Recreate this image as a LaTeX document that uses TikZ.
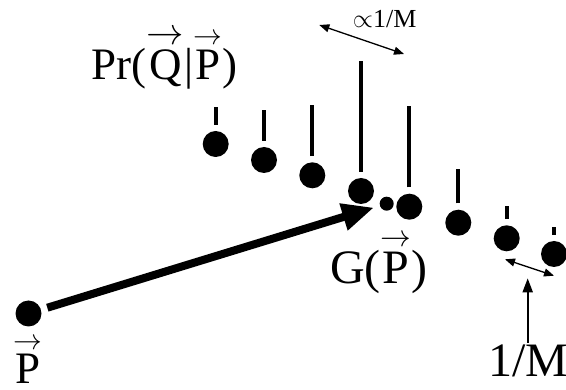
\RequirePackage{fix-cm}
\documentclass[tikz,border=0pt]{standalone}
\usepackage{fontspec}
\setmainfont{Liberation Serif}
\usepackage{graphicx}
\usepackage{tikz}
\usetikzlibrary{arrows.meta}

% Pfeil ueber einem Buchstaben, so breit wie der Buchstabe
\newlength\vekbreite
\newcommand\vek[1]{\settowidth\vekbreite{#1}\leavevmode\vbox{\offinterlineskip
    \halign{\hfil##\hfil\cr\resizebox{1.15\vekbreite}{!}{$\rightarrow$}\cr
    \noalign{\kern0.12em}#1\cr}}}

\begin{document}
\begin{tikzpicture}[x=1pt,y=-1pt,kugel/.style={circle, fill=black, inner sep=0pt,
    minimum size=26pt},klein/.style={kugel, minimum size=14pt},stab/.style={line width=4pt},
    pfeil/.style={line width=1.3pt, {Triangle[length=10pt,width=8pt]}-{Triangle[length=10pt,width=8pt]}},
    gross/.style={line width=8pt, -{Triangle[length=32pt,width=26pt]},
	        shorten >=6pt, shorten <=6.5pt},
    schrift/.style={inner sep=0pt, anchor=base west, font=\fontsize{48}{54}\selectfont},]

	\useasboundingbox (0,0) rectangle (566,390);

	\node [kugel] (p) at (28.5,313.5) {};
	\node [kugel] (q1) at (215.7,144) {};
	\node [kugel] (q2) at (264,160) {};
	\node [kugel] (q3) at (312.3,175.3) {};
	\node [kugel] (q4) at (361,191) {};
	\node [klein] (g) at (386.7,203.7) {};
	\node [kugel] (q5) at (409.3,206.7) {};
	\node [kugel] (q6) at (458.3,222.7) {};
	\node [kugel] (q7) at (506.7,238.3) {};
	\node [kugel] (q8) at (554,254) {};

	\draw [stab] ([yshift=6pt]q1.north) -- ++(0,-18);
	\draw [stab] ([yshift=6pt]q2.north) -- ++(0,-31);
	\draw [stab] ([yshift=6pt]q3.north) -- ++(0,-51);
	\draw [stab] ([yshift=6pt]q4.north) -- ++(0,-111);
	\draw [stab] ([yshift=6pt]q5.north) -- ++(0,-81);
	\draw [stab] ([yshift=6pt]q6.north) -- ++(0,-34);
	\draw [stab] ([yshift=6pt]q7.north) -- ++(0,-13);
	\draw [stab] ([yshift=6pt]q8.north) -- ++(0,-8);

	\draw [gross] (p) -- (g);

	\node [schrift, font=\fontsize{45}{50}\selectfont] (prob) at (91.7,79.3) {Pr(\vek{Q}|\vek{P})};
	\node [schrift] (bild) at (330,283.3) {G(\vek{P})};
	\node [schrift, font=\fontsize{45}{50}\selectfont] (vekp) at (13,384) {\vek{P}};
	\node [schrift] (eins) at (488.3,376.7) {1/M};
	\node [schrift, font=\fontsize{26}{30}\selectfont] (prop) at (352.7,27.3) {$\propto$1/M};

	\coordinate (w1) at (319.3,25);
	\coordinate (w2) at (404,54);
	\draw [pfeil] (w1) -- (w2);

	\coordinate (b1) at (505,259.3);
	\coordinate (b2) at (554,275.7);
	\coordinate (b3) at (527.7,278.3);
	\draw [pfeil] (b1) -- (b2);
	\draw [line width=2pt, -{Triangle[length=14pt,width=10pt]}] ([yshift=2pt]eins.north -| b3) -- (b3);

\end{tikzpicture}
\end{document}
